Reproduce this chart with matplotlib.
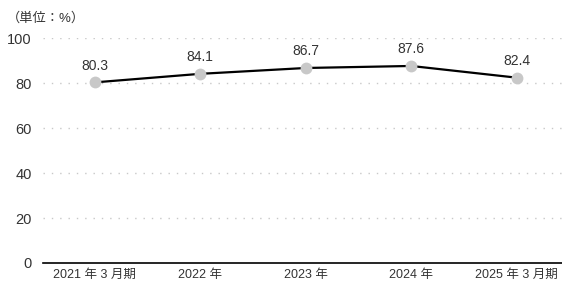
import matplotlib
matplotlib.use("Agg")
import matplotlib.pyplot as plt

plt.rcParams['font.family'] = ['Liberation Sans', 'Noto Sans CJK JP', 'DejaVu Sans']

categories = ["2021 年 3 月期", "2022 年", "2023 年", "2024 年", "2025 年 3 月期"]
values = [80.3, 84.1, 86.7, 87.6, 82.4]
yticks = [0, 20, 40, 60, 80, 100]

fig = plt.figure(figsize=(5.62, 2.82), dpi=100)
ax = fig.add_axes([0.0765, 0.0674, 0.9235, 0.7976])

x = list(range(len(categories)))
ax.plot(x, values, color='black', lw=1.6, zorder=2)
ax.plot(x, values, 'o', color='#c8c8c8', markersize=8.5, zorder=3, markeredgewidth=0)
for xi, v in zip(x, values):
    ax.annotate(f"{v:.1f}", (xi, v), xytext=(0, 7), textcoords='offset points',
                ha='center', va='bottom', fontsize=10, color='#333333')

ax.set_xlim(-0.49, 4.43)
ax.set_ylim(0, 100)
ax.set_yticks(yticks)
ax.set_yticklabels([str(t) for t in yticks], fontsize=10.5, color='#333333')
ax.set_xticks(x)
ax.set_xticklabels(categories, fontsize=9, color='#333333')
ax.tick_params(axis='both', length=0)
ax.tick_params(axis='y', pad=8)
ax.tick_params(axis='x', pad=4)
for t in yticks[1:]:
    ax.axhline(t, color='#c8c8c8', lw=1.0, ls=(0, (1, 5)), zorder=1)
for s in ['top', 'right', 'left']:
    ax.spines[s].set_visible(False)
ax.spines['bottom'].set_color('black')
ax.spines['bottom'].set_linewidth(1.2)

fig.text(0.012, 0.935, "（単位：%）", fontsize=9.5, color='#333333', ha='left', va='center')

fig.savefig("out.png", dpi=100)
